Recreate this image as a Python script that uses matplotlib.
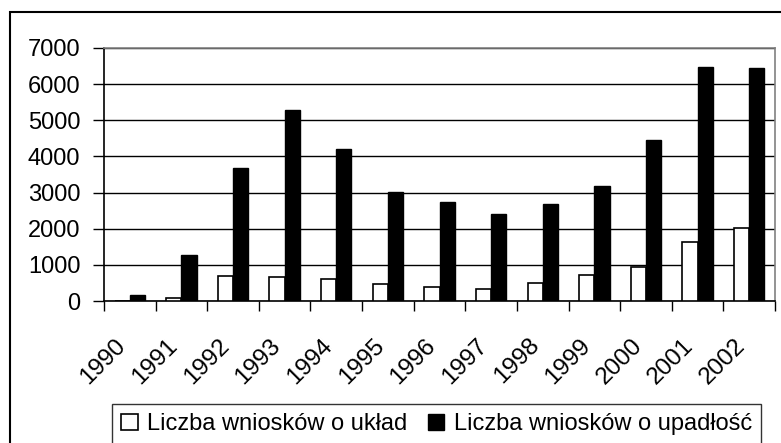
import numpy as np
import matplotlib
matplotlib.use('Agg')
import matplotlib.pyplot as plt
import matplotlib.transforms as mtransforms
from matplotlib.patches import Patch, Rectangle

plt.rcParams['font.family'] = ['Liberation Sans', 'DejaVu Sans']

# dane
lata = ['1990', '1991', '1992', '1993', '1994', '1995', '1996',
        '1997', '1998', '1999', '2000', '2001', '2002']
uklad = [0, 90, 700, 670, 610, 480, 380, 340, 500, 710, 930, 1630, 2020]
upadlosc = [170, 1270, 3690, 5275, 4215, 3005, 2730, 2395, 2685, 3180, 4465, 6465, 6435]
serie = ['Liczba wniosków o układ', 'Liczba wniosków o upadłość']

W, H = 781, 443
fig = plt.figure(figsize=(W / 100, H / 100), dpi=100)
ax = fig.add_axes([104 / W, 1 - 301 / H, (775 - 104) / W, (301 - 48) / H])

x = np.arange(len(lata))
szer = 0.295
ax.bar(x - szer / 2, uklad, szer, color='white', edgecolor='black', linewidth=1.2, zorder=3)
ax.bar(x + szer / 2, upadlosc, szer, color='black', edgecolor='black', linewidth=1, zorder=3)

ax.set_xlim(-0.5, len(lata) - 0.5)
ax.set_ylim(0, 7000)
ax.set_yticks(range(0, 7001, 1000))
ax.yaxis.grid(True, color='black', linewidth=1, zorder=0)
ax.tick_params(axis='y', length=8, width=1, pad=9, labelsize=17)

# etykiety lat w środku kategorii, kreski na granicach
ax.set_xticks(x)
ax.set_xticklabels(lata, rotation=45, ha='right', va='top', rotation_mode='anchor')
ax.set_xticks(np.arange(-0.5, len(lata)), minor=True)
ax.tick_params(axis='x', which='major', length=0, pad=24, labelsize=17.5)
ax.tick_params(axis='x', which='minor', length=7, width=1)
przes = mtransforms.ScaledTranslation(-0.15, 0, fig.dpi_scale_trans)
for lab in ax.get_xticklabels():
    lab.set_transform(lab.get_transform() + przes)

ax.spines['left'].set_color('black')
ax.spines['bottom'].set_color('black')
ax.spines['top'].set_color('#808080')
ax.spines['right'].set_color('#808080')
for s in ax.spines.values():
    s.set_linewidth(1.2)

uchwyty = [Patch(facecolor='white', edgecolor='black', linewidth=1.2),
           Patch(facecolor='black', edgecolor='black')]
leg = fig.legend(uchwyty, serie, loc='upper left', bbox_to_anchor=(112 / W, 1 - 404 / H),
                 ncol=2, fontsize=17, frameon=True, fancybox=False, edgecolor='black',
                 handlelength=0.7, handleheight=0.7, handletextpad=0.4, columnspacing=0.85,
                 borderpad=0.4, borderaxespad=0)
leg.get_frame().set_linewidth(1)

# ramka wykresu
fig.patches.append(Rectangle((10 / W, -0.1), 2, 1.1 - 12 / H, transform=fig.transFigure,
                             fill=False, edgecolor='black', linewidth=1.5))

fig.savefig('out.png', dpi=100)
